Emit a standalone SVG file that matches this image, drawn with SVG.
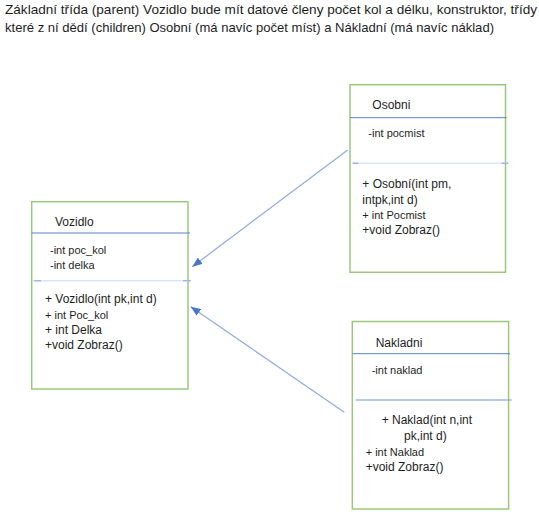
<svg xmlns="http://www.w3.org/2000/svg" width="539" height="518" viewBox="0 0 539 518">
<style>
text{font-family:"Liberation Sans",Arial,sans-serif;fill:#1e1e1e}
.t{font-size:13px}
.m{font-size:12px}
.s{font-size:11px}
.box{fill:#ffffff;stroke:#9cc87c;stroke-width:1.5}
.hdr{stroke:#5b82cc;stroke-width:1}
.sepl{stroke:#dbe5f5;stroke-width:1.5}
.sepd{stroke:#9db6e2;stroke-width:1.5}
.sep{stroke:#7396d8;stroke-width:1.2}
.con{stroke:#8eabe0;stroke-width:1.2;fill:none;marker-end:url(#arr)}
</style>
<defs>
<marker id="arr" markerUnits="userSpaceOnUse" markerWidth="10" markerHeight="8" refX="10" refY="4" orient="auto">
<path d="M0,0 L10,4 L0,8 z" fill="#4a76c8"/>
</marker>
</defs>
<rect width="539" height="518" fill="#ffffff"/>
<g id="title">
<text class="t" x="5" y="13.5" textLength="532" lengthAdjust="spacingAndGlyphs">Základní třída (parent) Vozidlo bude mít datové členy počet kol a délku, konstruktor, třídy</text>
<text class="t" x="5" y="32" textLength="489" lengthAdjust="spacingAndGlyphs">které z ní dědí (children) Osobní (má navíc počet míst) a Nákladní (má navíc náklad)</text>
</g>
<g id="connectors">
<line class="con" x1="347.7" y1="150" x2="192.3" y2="266.7"/>
<line class="con" x1="344.3" y1="412.3" x2="190.7" y2="306.7"/>
</g>
<g id="vozidlo">
<rect class="box" x="31.7" y="201.7" width="156.3" height="187.3"/>
<line class="hdr" x1="31.7" y1="233" x2="190" y2="233"/>
<line class="sepl" x1="33" y1="280.7" x2="190.7" y2="280.7"/>
<line class="sepd" x1="34.3" y1="280.7" x2="41" y2="280.7"/>
<line class="sepd" x1="183" y1="280.7" x2="190.7" y2="280.7"/>
<text class="m" x="55" y="226">Vozidlo</text>
<text class="s" x="50" y="254">-int poc_kol</text>
<text class="s" x="50" y="269.3">-int delka</text>
<text class="m" x="45" y="303.3">+ Vozidlo(int pk,int d)</text>
<text class="s" x="45" y="319.3">+ int Poc_kol</text>
<text class="m" x="45" y="334.3">+ int Delka</text>
<text class="m" x="45" y="349.3">+void Zobraz()</text>
</g>
<g id="osobni">
<rect class="box" x="350" y="84.7" width="155.5" height="187.6"/>
<line class="hdr" x1="350" y1="117.7" x2="506.7" y2="117.7"/>
<line class="sepl" x1="352.7" y1="163.3" x2="508.3" y2="163.3"/>
<line class="sepd" x1="352.7" y1="163.3" x2="358.3" y2="163.3"/>
<line class="sepd" x1="501.7" y1="163.3" x2="508.3" y2="163.3"/>
<text class="m" x="372.3" y="109.3">Osobni</text>
<text class="s" x="368.3" y="137.3">-int pocmist</text>
<text class="m" x="362.3" y="188.3">+ Osobní(int pm,</text>
<text class="m" x="362.3" y="204">intpk,int d)</text>
<text class="s" x="362.3" y="219.3">+ int Pocmist</text>
<text class="m" x="362.3" y="234.3">+void Zobraz()</text>
</g>
<g id="nakladni">
<rect class="box" x="352.3" y="321.5" width="156.3" height="187.5"/>
<line class="hdr" x1="352.3" y1="353.7" x2="510" y2="353.7"/>
<line class="sep" x1="355.7" y1="400" x2="511.7" y2="400"/>
<text class="m" x="375.7" y="346.7">Nakladni</text>
<text class="s" x="371.7" y="374.3">-int naklad</text>
<text class="m" x="381.7" y="424">+ Naklad(int n,int</text>
<text class="m" x="404" y="440">pk,int d)</text>
<text class="s" x="365.7" y="455.7">+ int Naklad</text>
<text class="m" x="365.7" y="471">+void Zobraz()</text>
</g>
</svg>
